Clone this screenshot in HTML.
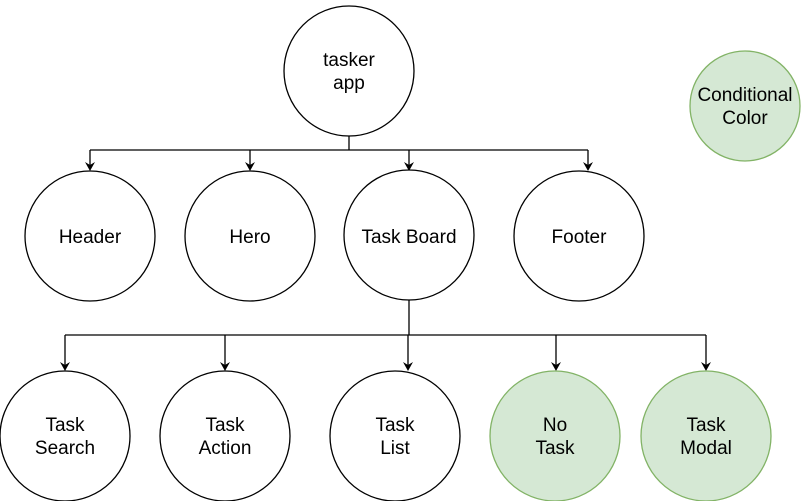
<!DOCTYPE html>
<html><head><style>body{margin:0;background:#fff}svg{display:block}</style></head><body>
<svg width="801" height="501" xmlns="http://www.w3.org/2000/svg" font-family="Liberation Sans, Arial, sans-serif" font-size="19">
<g fill="none" stroke="#000" stroke-width="1.3">
<path d="M349 136 V150 M90 150 H588"/>
<path d="M90 150 V165 M250 150 V165 M409 150 V165 M588 150 V165"/>
<path d="M409 300 V335 M65 335 H706"/>
<path d="M65 335 V365 M225 335 V365 M408 335 V365 M556 335 V365 M706 335 V365"/>
</g>
<g fill="#000">
<path d="M85 162 L90 171 L95 162 L90 165 Z"/>
<path d="M245 162 L250 171 L255 162 L250 165 Z"/>
<path d="M404 162 L409 171 L414 162 L409 165 Z"/>
<path d="M583 162 L588 171 L593 162 L588 165 Z"/>
<path d="M60 362 L65 371 L70 362 L65 365 Z"/>
<path d="M220 362 L225 371 L230 362 L225 365 Z"/>
<path d="M403 362 L408 371 L413 362 L408 365 Z"/>
<path d="M551 362 L556 371 L561 362 L556 365 Z"/>
<path d="M701 362 L706 371 L711 362 L706 365 Z"/>
</g>
<g stroke="#000" stroke-width="1.3" fill="#fff">
<circle cx="349" cy="71" r="65"/>
<circle cx="90" cy="236" r="65"/><circle cx="250" cy="236" r="65"/>
<circle cx="409" cy="235" r="65"/><circle cx="579" cy="236" r="65"/>
<circle cx="65" cy="436" r="65"/><circle cx="225" cy="436" r="65"/><circle cx="395" cy="436" r="65"/>
</g>
<g stroke="#82b366" stroke-width="1.3" fill="#d5e8d4">
<circle cx="745" cy="106" r="55"/>
<circle cx="555" cy="436" r="65"/><circle cx="706" cy="436" r="65"/>
</g>
<g text-anchor="middle" fill="#000">
<text x="349" y="66">tasker</text><text x="349" y="89">app</text>
<text x="745" y="101">Conditional</text><text x="745" y="124">Color</text>
<text x="90" y="243">Header</text><text x="250" y="243">Hero</text>
<text x="409" y="243">Task Board</text><text x="579" y="243">Footer</text>
<text x="65" y="431">Task</text><text x="65" y="454">Search</text>
<text x="225" y="431">Task</text><text x="225" y="454">Action</text>
<text x="395" y="431">Task</text><text x="395" y="454">List</text>
<text x="555" y="431">No</text><text x="555" y="454">Task</text>
<text x="706" y="431">Task</text><text x="706" y="454">Modal</text>
</g>
</svg>
</body></html>
